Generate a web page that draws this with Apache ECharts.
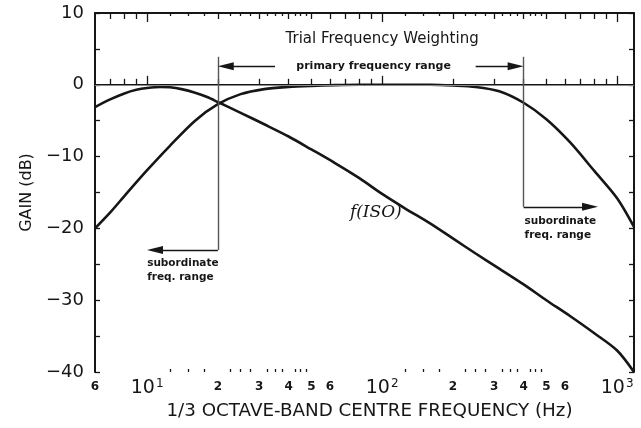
<!DOCTYPE html>
<html>
<head>
<meta charset="utf-8">
<script src="https://cdn.jsdelivr.net/npm/echarts@6/dist/echarts.min.js"></script>
<style>
html,body{margin:0;padding:0;background:#fff;}
#box4{width:641px;height:428px;}
</style>
</head>
<body>
<div id="box4"></div>
<script>
// f(ISO) curve
var freqIso = [6, 7, 8, 9, 10, 11.4, 12.5, 14, 16, 18, 20, 25, 31.5, 40, 50, 63, 80, 100, 125, 160, 200, 250, 315, 400, 500, 630, 800, 1000, 1180];
var gainIso = [-3.1, -2.0, -1.2, -0.7, -0.45, -0.3, -0.35, -0.6, -1.1, -1.7, -2.4, -3.9, -5.5, -7.2, -9.0, -10.9, -13.0, -15.2, -17.2, -19.3, -21.4, -23.5, -25.6, -27.8, -30.0, -32.2, -34.6, -37.0, -40];

// trial frequency weighting (band pass)
var freqTrial = [6, 7, 8, 10, 12.5, 16, 20, 25, 31.5, 40, 50, 63, 80, 100, 125, 160, 200, 250, 315, 400, 500, 630, 800, 1000, 1180];
var gainTrial = [-20, -17.7, -15.5, -11.9, -8.5, -5.0, -2.7, -1.3, -0.6, -0.3, -0.15, -0.05, 0, 0, 0, 0, -0.1, -0.3, -0.9, -2.5, -4.8, -8.0, -12.0, -15.8, -19.8];

// x axis ticks / labels (Hz)
var longTicks = [10, 100, 1000];
var midTicks = [7, 8, 9, 20, 30, 40, 50, 60, 70, 80, 90, 200, 300, 400, 500, 600, 700, 800, 900];
var shortTicks = [12.5, 15, 17.5, 22.5, 25, 27.5, 32.5, 35, 37.5, 42.5, 45, 47.5, 125, 150, 175, 225, 250, 275, 325, 350, 375, 425, 450, 475];
var xLabels = [6, 10, 20, 30, 40, 50, 60, 100, 200, 300, 400, 500, 600, 1000];

var font = 'DejaVu Sans';
var ink = '#161616';

function toPairs(xs, ys) {
	var out = [];
	for (var i = 0; i < xs.length; i++) {
		out.push([xs[i], ys[i]]);
	}
	return out;
}

function xAxisOf(pos, ticks, len, withLine, withLabel) {
	return {
		type: 'log',
		logBase: 10,
		min: 6,
		max: 1180,
		position: pos,
		axisLine: {show: withLine, lineStyle: {color: ink, width: 2}},
		axisTick: {show: true, inside: true, length: len, customValues: ticks, lineStyle: {color: ink, width: 1.3}},
		axisLabel: withLabel ? {
			show: true,
			margin: 6,
			customValues: xLabels,
			formatter: function (v) {
				var n = Math.round(v);
				if (n == 10) return '{b|10}{s|1}';
				if (n == 100) return '{b|10}{s|2}';
				if (n == 1000) return '{b|10}{s|3}';
				return '{m|' + String(n).charAt(0) + '}';
			},
			rich: {
				b: {fontSize: 19, fontFamily: font, color: ink, lineHeight: 20},
				s: {fontSize: 12, fontFamily: font, color: ink, verticalAlign: 'top', lineHeight: 12, padding: [0, 0, 0, 1]},
				m: {fontSize: 12, fontFamily: font, fontWeight: 'bold', color: ink, padding: [3, 0, 0, 0]}
			}
		} : {show: false},
		splitLine: {show: false},
		minorTick: {show: false},
		name: withLabel ? '1/3 OCTAVE-BAND CENTRE FREQUENCY (Hz)' : '',
		nameLocation: 'middle',
		nameGap: 27,
		nameTextStyle: {fontSize: 18.3, fontFamily: font, color: ink, padding: [0, 0, 0, 10]}
	};
}

function yAxisOf(pos, withLabel) {
	return {
		type: 'value',
		min: -40,
		max: 10,
		interval: 5,
		position: pos,
		axisLine: {show: true, lineStyle: {color: ink, width: 2}},
		axisTick: {show: true, inside: true, length: 5, lineStyle: {color: ink, width: 1.3}},
		axisLabel: {
			show: withLabel,
			margin: 11,
			fontSize: 18,
			fontFamily: font,
			color: ink,
			formatter: function (v) {
				if (v % 10 != 0) return '';
				return v < 0 ? '\u2212' + (-v) : String(v);
			}
		},
		splitLine: {show: false},
		name: withLabel ? 'GAIN (dB)' : '',
		nameLocation: 'middle',
		nameGap: 60,
		nameTextStyle: {fontSize: 16, fontFamily: font, color: ink}
	};
}

// the triangle is centred on the end point, so the end is set a little short of the tip
function arrow(x1, y1, x2, y2) {
	return [
		{coord: [x1, y1], symbol: 'none'},
		{coord: [x2, y2], symbol: 'triangle', symbolSize: [8, 16]}
	];
}

function plain(x1, y1, x2, y2, color) {
	return [
		{coord: [x1, y1], symbol: 'none', lineStyle: {color: color, width: 1.4}},
		{coord: [x2, y2], symbol: 'none'}
	];
}

var dom = document.getElementById('box4');
var myChart = echarts.init(dom, null, {renderer: 'canvas'});
var option = {
	animation: false,
	backgroundColor: '#fff',
	grid: {left: 95, right: 7, top: 13, bottom: 56, containLabel: false, outerBoundsMode: 'none'},
	xAxis: [
		xAxisOf('bottom', longTicks, 9, true, true),
		xAxisOf('bottom', midTicks, 6, false, false),
		xAxisOf('bottom', shortTicks, 3, false, false),
		xAxisOf('top', longTicks, 9, true, false),
		xAxisOf('top', midTicks, 6, false, false),
		xAxisOf('top', shortTicks, 3, false, false)
	],
	yAxis: [
		yAxisOf('left', true),
		yAxisOf('right', false)
	],
	series: [
		{
			type: 'line',
			name: 'trial',
			data: toPairs(freqTrial, gainTrial),
			showSymbol: false,
			symbol: 'none',
			smooth: 0.3,
			lineStyle: {color: ink, width: 2.6},
			markLine: {
				silent: true,
				symbol: ['none', 'none'],
				label: {show: false},
				lineStyle: {color: ink, width: 1.4, type: 'solid'},
				data: [
					[{coord: [6, 0], symbol: 'none', lineStyle: {color: '#8a8a8a', width: 1}}, {coord: [1180, 0], symbol: 'none'}],
					plain(20, 3.9, 20, -23, '#555'),
					plain(400, 3.9, 400, -17, '#555'),
					arrow(20, -23, 10.8, -23),
					arrow(400, -17, 767, -17),
					arrow(35, 2.6, 21.6, 2.6),
					arrow(250, 2.6, 370, 2.6)
				]
			}
		},
		{
			type: 'line',
			name: 'iso',
			data: toPairs(freqIso, gainIso),
			showSymbol: false,
			symbol: 'none',
			smooth: 0.3,
			lineStyle: {color: ink, width: 2.6},
			markPoint: {
				silent: true,
				symbol: 'circle',
				symbolSize: 0,
				data: [
					{coord: [100, 6.3], value: 1, label: {show: true, position: 'inside', formatter: 'Trial Frequency Weighting', fontSize: 15, fontFamily: font, color: ink}},
					{coord: [92, 2.6], value: 1, label: {show: true, position: 'inside', formatter: 'primary frequency range', fontSize: 11, fontWeight: 'bold', fontFamily: font, color: ink}},
					{coord: [10, -25.9], value: 1, label: {show: true, position: 'right', distance: 0, formatter: 'subordinate\nfreq. range', fontSize: 10.5, lineHeight: 14, fontWeight: 'bold', fontFamily: font, color: ink}},
					{coord: [400, -20.0], value: 1, label: {show: true, position: 'right', distance: 1, formatter: 'subordinate\nfreq. range', fontSize: 10.5, lineHeight: 14, fontWeight: 'bold', fontFamily: font, color: ink}},
					{coord: [94, -17.8], value: 1, label: {show: true, position: 'inside', formatter: 'f(ISO)', fontSize: 17, fontStyle: 'italic', fontFamily: 'DejaVu Serif', color: ink}}
				]
			}
		}
	]
};

if (option && typeof option === 'object') {
	myChart.setOption(option, true);
}
</script>
</body>
</html>
